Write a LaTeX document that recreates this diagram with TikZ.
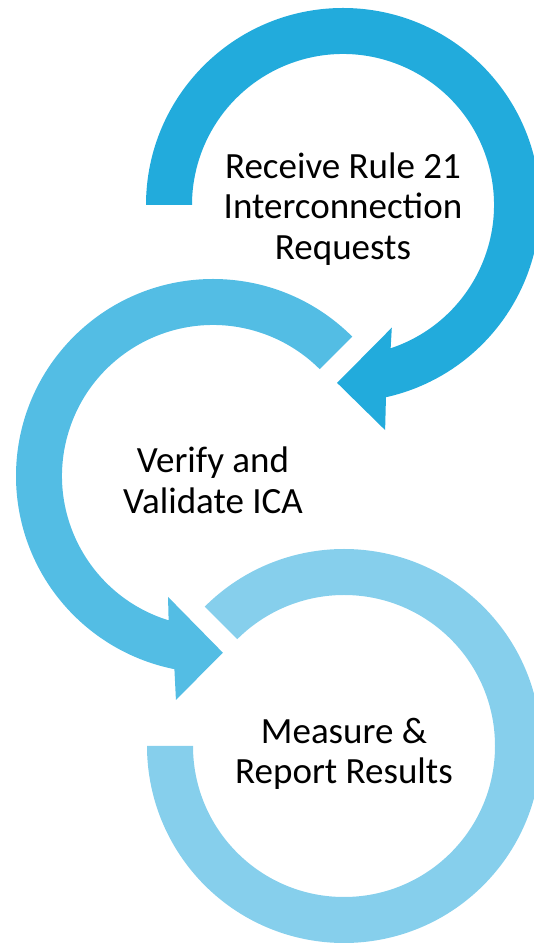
\documentclass[tikz,border=0pt]{standalone}
\usepackage{fontspec}
\setmainfont{Carlito}
\usepackage{tikz}
\usetikzlibrary{positioning}
\definecolor{ringdark}{HTML}{22ABDC}
\definecolor{ringmid}{HTML}{53BDE4}
\definecolor{ringlight}{HTML}{86CFEC}
\tikzset{
   steptext/.style = {%
    align=center,
    inner sep=0pt,
    text=black,
    font=\fontsize{37bp}{40.7bp}\selectfont},
}
\begin{document}
\begin{tikzpicture}[x=1bp, y=1bp]
    \clip (0,0) rectangle (534,945);
    \useasboundingbox (0,0) rectangle (534,945);
    \coordinate (receive) at (343,740);
    \coordinate (verify) at (213,469);
    \coordinate (measure) at (344,199);
    % bottom ring, open at the upper left
    \fill[ringlight, shift={(measure)}]
        (135:197) arc[start angle=135, end angle=-180, radius=197]
        -- (180:151) arc[start angle=-180, end angle=135, radius=151] -- cycle;
    % middle arrow
    \fill[ringmid, shift={(verify)}]
        (45:197) arc[start angle=45, end angle=258.7, radius=197]
        -- (260.6:227) -- (273.2:177) -- (249.6:129) -- (252.9:151)
        arc[start angle=252.9, end angle=45, radius=151] -- cycle;
    % top arrow
    \fill[ringdark, shift={(receive)}]
        (180:197) arc[start angle=180, end angle=-77.4, radius=197]
        -- (-79.4:229) -- (-91.9:178) -- (-68.3:132) -- (-71.6:151)
        arc[start angle=-71.6, end angle=180, radius=151] -- cycle;
    \node[steptext] (receivetext) at ([yshift=-4]receive) {Receive Rule 21\\Interconnection\\Requests};
    \node[steptext] (verifytext) at ([yshift=-4]verify) {Verify and\\Validate ICA};
    \node[steptext] (measuretext) at ([yshift=-8]measure) {Measure \&\\Report Results};
\end{tikzpicture}
\end{document}
